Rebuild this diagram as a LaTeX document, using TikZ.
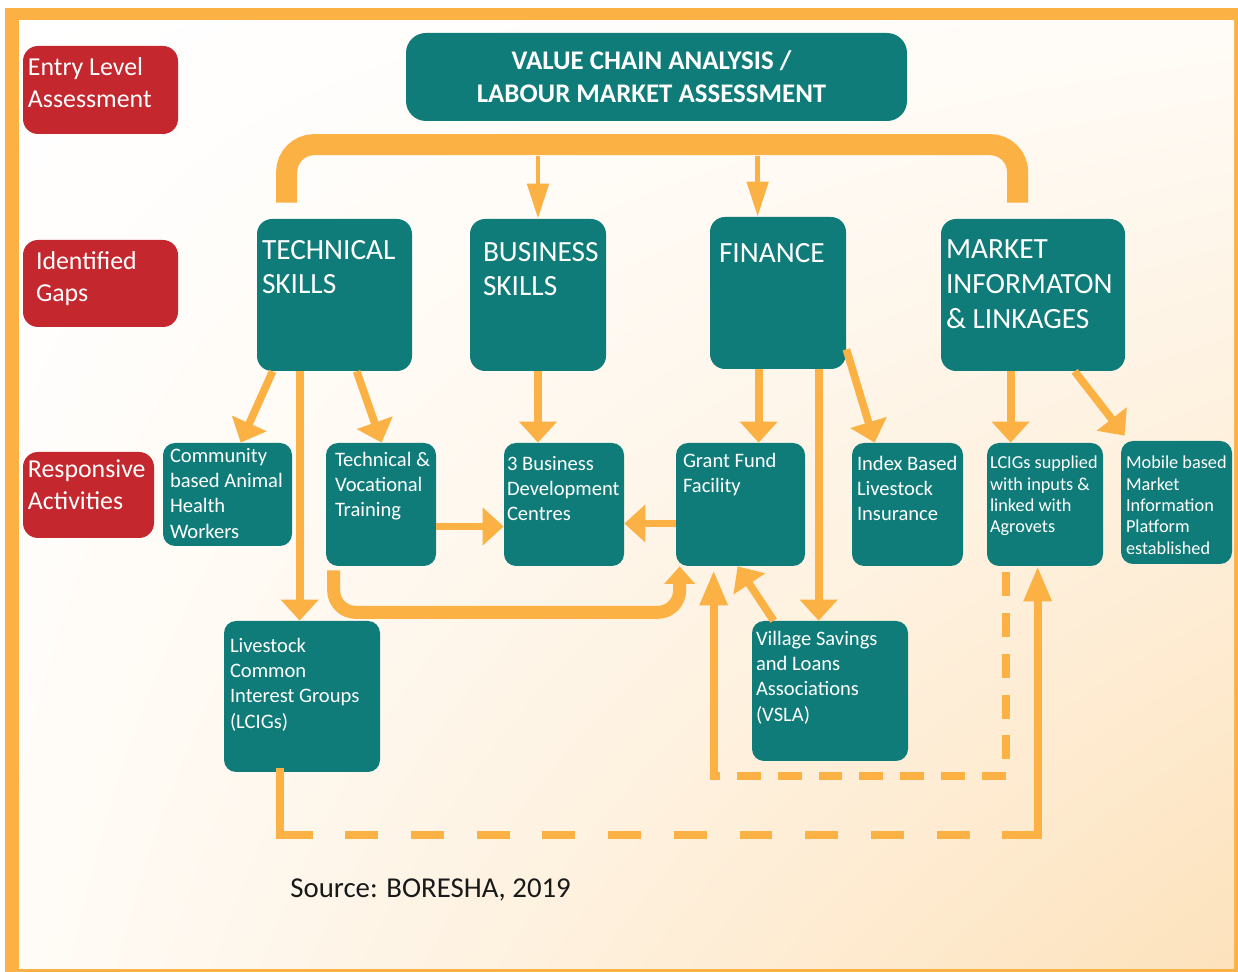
\documentclass[tikz,border=0pt]{standalone}
\usepackage{fontspec}
\setmainfont{Carlito}
\usetikzlibrary{arrows.meta,positioning,fit,calc,shadings}

\definecolor{chainorange}{RGB}{251,177,68}
\definecolor{chainteal}{RGB}{16,124,121}
\definecolor{chainred}{RGB}{196,40,46}
\definecolor{chainpeach}{RGB}{253,226,188}

\tikzset{
  levelbox/.style={fill=chainred, rounded corners=0.3cm, inner sep=0pt},
  gapbox/.style={fill=chainteal, rounded corners=0.3cm, inner sep=0pt},
  actbox/.style={fill=chainteal, rounded corners=0.24cm, inner sep=0pt},
  boxtext/.style={text=white, anchor=north west, inner sep=0pt, align=left},
  leveltext/.style={boxtext, font=\fontsize{14.7}{18}\selectfont},
  gaptext/.style={boxtext, font=\fontsize{16.7}{19.8}\selectfont},
  acttext/.style={boxtext, font=\fontsize{11.7}{14.4}\selectfont},
  smalltext/.style={boxtext, font=\fontsize{10.4}{12.2}\selectfont},
  trunk/.style={draw=chainorange, line width=12pt, rounded corners=0.55cm},
  feed/.style={draw=chainorange, line width=2.8pt, -{Triangle[width=12pt,length=20pt]}},
  flow/.style={draw=chainorange, line width=4.4pt, -{Triangle[width=21pt,length=12pt]}},
  upflow/.style={draw=chainorange, line width=4.6pt, line cap=rect, -{Triangle[width=15pt,length=20pt]}},
  loopline/.style={draw=chainorange, line width=4.6pt},
  loopback/.style={draw=chainorange, line width=7.4pt, rounded corners=0.44cm, -{Triangle[width=17pt,length=10pt]}}
}

\begin{document}
\begin{tikzpicture}[x=0.02cm,y=-0.02cm]
% frame and background
\useasboundingbox (0,0) rectangle (1238,972);
\fill[chainorange] (5,8) rectangle (1238,972);
\shade[upper left=white, upper right=chainpeach!12!white, lower left=chainpeach!12!white, lower right=chainpeach] (19,21) rectangle (1234,968);

% row labels
\node[levelbox, fit={(23,46) (178,134)}] (entry) {};
\node[leveltext] (entrytxt) at ([shift={(5,12)}]entry.north west) {Entry Level\\Assessment};
\node[levelbox, fit={(23,240) (178,327)}] (gaps) {};
\node[leveltext] (gapstxt) at ([shift={(13,12)}]gaps.north west) {Identified\\Gaps};
\node[levelbox, fit={(23,452) (154,538)}] (resp) {};
\node[leveltext] (resptxt) at ([shift={(5,8)}]resp.north west) {Responsive\\Activities};

% assessment
\node[gapbox, rounded corners=0.4cm, fit={(406,33) (907,121)}] (vca) {};
\node[text=white, align=center, font=\bfseries\fontsize{15.3}{18.7}\selectfont] (vcatxt) at ([shift={(-5,0)}]vca.center) {VALUE CHAIN ANALYSIS /\\LABOUR MARKET ASSESSMENT};

% identified gaps
\node[gapbox, fit={(257,219) (412,371)}] (tech) {};
\node[gaptext] (techtxt) at ([shift={(5,21)}]tech.north west) {TECHNICAL\\SKILLS};
\node[gapbox, fit={(470,219) (606,371)}] (bus) {};
\node[gaptext] (bustxt) at ([shift={(13,23)}]bus.north west) {BUSINESS\\SKILLS};
\node[gapbox, fit={(710,217) (846,369)}] (fin) {};
\node[gaptext] (fintxt) at ([shift={(9,26)}]fin.north west) {FINANCE};
\node[gapbox, fit={(941,219) (1125,371)}] (mkt) {};
\node[gaptext] (mkttxt) at ([shift={(5,21)}]mkt.north west) {MARKET\\INFORMATON\\\& LINKAGES};

% responsive activities
\node[actbox, fit={(163,443) (292,546)}] (cahw) {};
\node[acttext] (cahwtxt) at ([shift={(7,5)}]cahw.north west) {Community\\based Animal\\Health\\Workers};
\node[actbox, fit={(326,443) (436,566)}] (tvt) {};
\node[acttext] (tvttxt) at ([shift={(9,9)}]tvt.north west) {Technical \&\\Vocational\\Training};
\node[actbox, fit={(504,443) (624,566)}] (bdc) {};
\node[acttext] (bdctxt) at ([shift={(3,13)}]bdc.north west) {3 Business\\Development\\Centres};
\node[actbox, fit={(676,443) (805,566)}] (gff) {};
\node[acttext] (gfftxt) at ([shift={(7,10)}]gff.north west) {Grant Fund\\Facility};
\node[actbox, fit={(852,443) (963,566)}] (ibli) {};
\node[acttext] (iblitxt) at ([shift={(5,13)}]ibli.north west) {Index Based\\Livestock\\Insurance};
\node[actbox, fit={(987,443) (1103,566)}] (lsup) {};
\node[smalltext] (lsuptxt) at ([shift={(3,13)}]lsup.north west) {LCIGs supplied\\with inputs \&\\linked with\\Agrovets};
\node[actbox, fit={(1121,441) (1232,564)}] (mob) {};
\node[smalltext] (mobtxt) at ([shift={(5,15)}]mob.north west) {Mobile based\\Market\\Information\\Platform\\established};
\node[actbox, fit={(224,621) (380,772)}] (lcig) {};
\node[acttext] (lcigtxt) at ([shift={(6,17)}]lcig.north west) {Livestock\\Common\\Interest Groups\\(LCIGs)};
\node[actbox, fit={(752,621) (908,761)}] (vsla) {};
\node[acttext] (vslatxt) at ([shift={(4,10)}]vsla.north west) {Village Savings\\and Loans\\Associations\\(VSLA)};

\node[anchor=base west, inner sep=0pt, text=black!90, font=\fontsize{16.4}{19}\selectfont] (source) at (290,898) {Source: BORESHA, 2019};

% assessment feeds the gaps
\coordinate (trunkL) at ([shift={(30,-16)}]tech.north west);
\coordinate (trunkR) at ([shift={(77,-16)}]mkt.north west);
\coordinate (trunkbase) at (0,156);
\draw[trunk] (trunkL) -- ++(0,-58) -| (trunkR);
\draw[feed] (bus.north |- trunkbase) -- (bus.north);
\coordinate (finin) at ([shift={(48,0)}]fin.north west);
\draw[feed] (finin |- trunkbase) -- (finin);

% gaps to activities
\draw[flow] ([shift={(16,0)}]tech.south west) -- ([shift={(78,0)}]cahw.north west);
\coordinate (techdown) at ([shift={(43,0)}]tech.south west);
\draw[flow] (techdown) -- (techdown |- lcig.north);
\draw[flow] ([shift={(100,0)}]tech.south west) -- ([shift={(56,0)}]tvt.north west);
\draw[flow] (bus.south) -- (bus.south |- bdc.north);
\coordinate (findown) at ([shift={(49,0)}]fin.south west);
\draw[flow] (findown) -- (findown |- gff.north);
\coordinate (finvsla) at ([shift={(109,0)}]fin.south west);
\draw[flow] (finvsla) -- (finvsla |- vsla.north);
\draw[flow] ([shift={(0,-20)}]fin.south east) -- ([shift={(23,0)}]ibli.north west);
\coordinate (mktdown) at ([shift={(70,0)}]mkt.south west);
\draw[flow] (mktdown) -- (mktdown |- lsup.north);
\draw[flow] ([shift={(134,0)}]mkt.south west) -- ([shift={(4,-5)}]mob.north west);

% links between activities
\draw[flow] ([shift={(0,22)}]tvt.east) -- ([shift={(0,22)}]bdc.west);
\draw[flow] ([shift={(0,19)}]gff.west) -- ([shift={(0,19)}]bdc.east);
\draw[flow] ([shift={(22,0)}]vsla.north west) -- ([shift={(62,0)}]gff.south west);
\coordinate (gffin) at ([shift={(4,0)}]gff.south west);
\draw[loopback] ([shift={(8,4)}]tvt.south west) -- ++(0,42) -| (gffin);

% dashed loops
\coordinate (lsupout) at ([shift={(19,6)}]lsup.south west);
\coordinate (gffup) at ([shift={(38,4)}]gff.south west);
\coordinate (loopA) at (0,776);
\draw[loopline, dash pattern=on 13.6pt off 9.6pt] (lsupout) |- (gffup |- loopA);
\draw[upflow] (gffup |- loopA) -- (gffup);
\coordinate (lcigout) at ([shift={(56,0)}]lcig.south west);
\coordinate (lsupin) at ([shift={(51,0)}]lsup.south west);
\coordinate (loopB) at (0,835);
\draw[loopline, line cap=rect] (lcigout) -- (lcigout |- loopB);
\draw[loopline, dash pattern=on 18.7pt off 18.7pt] (lcigout |- loopB) -- (lsupin |- loopB);
\draw[upflow] (lsupin |- loopB) -- (lsupin);
\end{tikzpicture}
\end{document}
